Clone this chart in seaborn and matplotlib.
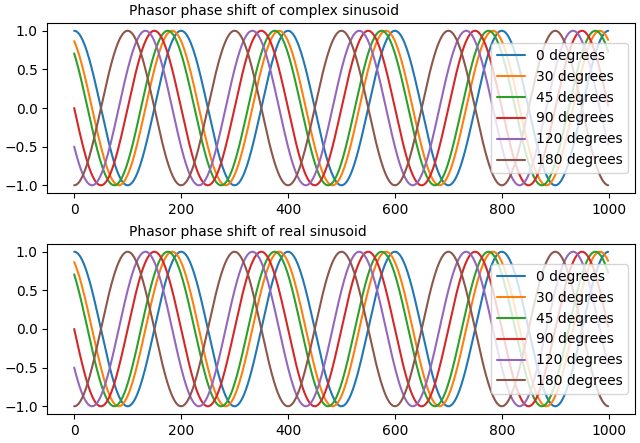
import numpy as np
import matplotlib
matplotlib.use("Agg")
import matplotlib.pyplot as plt
import seaborn as sns
import pandas as pd

# Data parameters
n_samples = 1000
period = 200
phases_deg = [0, 30, 45, 90, 120, 180]
labels = [f"{p} degrees" for p in phases_deg]
titles = ["Phasor phase shift of complex sinusoid", "Phasor phase shift of real sinusoid"]

sns.set_style("ticks")
plt.rcParams['font.family'] = ['DejaVu Sans']
plt.rcParams['text.color'] = 'black'
plt.rcParams['axes.labelcolor'] = 'black'
plt.rcParams['xtick.color'] = 'black'
plt.rcParams['ytick.color'] = 'black'
colors = sns.color_palette("tab10", len(phases_deg))

n = np.arange(n_samples)
rows = []
for p, lab in zip(phases_deg, labels):
    y = np.cos(2 * np.pi * n / period + np.deg2rad(p))
    rows.append(pd.DataFrame({"n": n, "y": y, "phase": lab}))
df = pd.concat(rows, ignore_index=True)

fig, axes = plt.subplots(2, 1, figsize=(6.4, 4.43), dpi=100)
fig.subplots_adjust(left=0.0742, right=0.992, top=0.948, bottom=0.0655, hspace=0.3)
for ax, t in zip(axes, titles):
    sns.lineplot(data=df, x="n", y="y", hue="phase", hue_order=labels,
                 palette=colors, ax=ax, linewidth=1.5, legend=True)
    ax.set_xlabel("")
    ax.set_ylabel("")
    ax.set_title(t, fontsize=10, x=0.138, ha="left", pad=6, color="black")
    ax.legend(loc="center right", title=None)
    for s in ax.spines.values():
        s.set_visible(True)
        s.set_linewidth(0.8)
        s.set_color("black")
    ax.tick_params(direction="out", length=3.5, width=0.8, colors="black")
    ax.set_xticks([0, 200, 400, 600, 800, 1000])
    ax.set_yticks([-1.0, -0.5, 0.0, 0.5, 1.0])

fig.savefig("out.png", dpi=100)
